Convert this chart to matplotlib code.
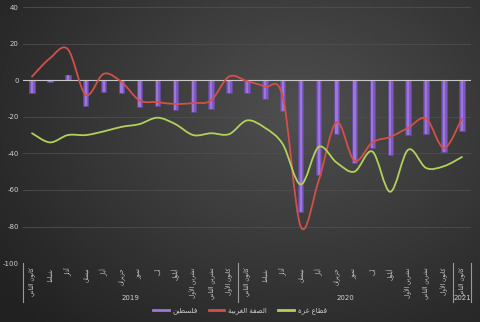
import numpy as np
import matplotlib
matplotlib.use("Agg")
import matplotlib.pyplot as plt
from matplotlib.path import Path
from matplotlib.patches import PathPatch
from matplotlib.lines import Line2D
import matplotlib.transforms as mtransforms

# ---------------- data ----------------
months = ['كانون الثاني', 'شباط', 'آذار', 'نيسان', 'أيار', 'حزيران', 'تموز', 'آب',
          'أيلول', 'تشرين الأول', 'تشرين الثاني', 'كانون الأول']
categories = months + months + ['كانون الثاني']
years = ['2019', '2020', '2021']
year_spans = [(0, 11), (12, 23), (24, 24)]

palestine = [-7, -1, 3, -14, -6.5, -7, -14.5, -14, -16.5, -17.5, -16, -7,
             -7, -10, -17, -72, -52, -29.5, -45, -37, -41, -30, -29.5, -39.5, -28]
west_bank = [2, 12, 17, -8, 3.5, -1, -11, -12, -13, -12.5, -11, 2,
             -0.5, -3.5, -9, -80, -55, -23, -44, -34, -31, -26, -21, -37, -21]
gaza = [-29, -34, -30, -30, -28, -25.5, -24, -20.5, -24, -30, -29, -29.5,
        -22, -26, -35, -57, -36.5, -45, -50, -39, -61, -38, -48, -47, -42]

series_names = ['فلسطين', 'الضفة الغربية', 'قطاع غزة']
y_ticks = [40, 20, 0, -20, -40, -60, -80, -100]

# ---------------- arabic shaping (display only) ----------------
F = {
    '\u0621': ('\uFE80', None, None, None),
    '\u0622': ('\uFE81', '\uFE82', None, None),
    '\u0623': ('\uFE83', '\uFE84', None, None),
    '\u0625': ('\uFE87', '\uFE88', None, None),
    '\u0627': ('\uFE8D', '\uFE8E', None, None),
    '\u0628': ('\uFE8F', '\uFE90', '\uFE91', '\uFE92'),
    '\u0629': ('\uFE93', '\uFE94', None, None),
    '\u062A': ('\uFE95', '\uFE96', '\uFE97', '\uFE98'),
    '\u062B': ('\uFE99', '\uFE9A', '\uFE9B', '\uFE9C'),
    '\u062C': ('\uFE9D', '\uFE9E', '\uFE9F', '\uFEA0'),
    '\u062D': ('\uFEA1', '\uFEA2', '\uFEA3', '\uFEA4'),
    '\u062E': ('\uFEA5', '\uFEA6', '\uFEA7', '\uFEA8'),
    '\u062F': ('\uFEA9', '\uFEAA', None, None),
    '\u0630': ('\uFEAB', '\uFEAC', None, None),
    '\u0631': ('\uFEAD', '\uFEAE', None, None),
    '\u0632': ('\uFEAF', '\uFEB0', None, None),
    '\u0633': ('\uFEB1', '\uFEB2', '\uFEB3', '\uFEB4'),
    '\u0634': ('\uFEB5', '\uFEB6', '\uFEB7', '\uFEB8'),
    '\u0635': ('\uFEB9', '\uFEBA', '\uFEBB', '\uFEBC'),
    '\u0636': ('\uFEBD', '\uFEBE', '\uFEBF', '\uFEC0'),
    '\u0637': ('\uFEC1', '\uFEC2', '\uFEC3', '\uFEC4'),
    '\u0638': ('\uFEC5', '\uFEC6', '\uFEC7', '\uFEC8'),
    '\u0639': ('\uFEC9', '\uFECA', '\uFECB', '\uFECC'),
    '\u063A': ('\uFECD', '\uFECE', '\uFECF', '\uFED0'),
    '\u0641': ('\uFED1', '\uFED2', '\uFED3', '\uFED4'),
    '\u0642': ('\uFED5', '\uFED6', '\uFED7', '\uFED8'),
    '\u0643': ('\uFED9', '\uFEDA', '\uFEDB', '\uFEDC'),
    '\u0644': ('\uFEDD', '\uFEDE', '\uFEDF', '\uFEE0'),
    '\u0645': ('\uFEE1', '\uFEE2', '\uFEE3', '\uFEE4'),
    '\u0646': ('\uFEE5', '\uFEE6', '\uFEE7', '\uFEE8'),
    '\u0647': ('\uFEE9', '\uFEEA', '\uFEEB', '\uFEEC'),
    '\u0648': ('\uFEED', '\uFEEE', None, None),
    '\u0649': ('\uFEEF', '\uFEF0', None, None),
    '\u064A': ('\uFEF1', '\uFEF2', '\uFEF3', '\uFEF4'),
}
LAM_ALEF = {'\u0622': ('\uFEF5', '\uFEF6'), '\u0623': ('\uFEF7', '\uFEF8'),
            '\u0625': ('\uFEF9', '\uFEFA'), '\u0627': ('\uFEFB', '\uFEFC')}


def shape(s):
    def dual(c):
        return c in F and F[c][2] is not None

    def joins(c):
        return c in F and F[c][1] is not None
    out = []
    ch = list(s)
    n = len(ch)
    i = 0
    prev = None
    while i < n:
        c = ch[i]
        if c not in F:
            out.append(c)
            prev = None
            i += 1
            continue
        jp = prev is not None and dual(prev)
        if c == '\u0644' and i + 1 < n and ch[i + 1] in LAM_ALEF:
            out.append(LAM_ALEF[ch[i + 1]][1 if jp else 0])
            prev = ch[i + 1]
            i += 2
            continue
        nxt = ch[i + 1] if i + 1 < n else None
        jn = dual(c) and nxt is not None and joins(nxt)
        fm = F[c]
        if jp and jn and fm[3]:
            g = fm[3]
        elif jp and fm[1]:
            g = fm[1]
        elif jn and fm[2]:
            g = fm[2]
        else:
            g = fm[0]
        out.append(g)
        prev = c
        i += 1
    return ''.join(reversed(out))


def smooth_path(x, y):
    n = len(x)
    verts = [(x[0], y[0])]
    codes = [Path.MOVETO]
    for i in range(n - 1):
        p0 = i - 1 if i > 0 else i
        p3 = i + 2 if i + 2 < n else i + 1
        c1 = (x[i] + (x[i + 1] - x[p0]) / 6.0, y[i] + (y[i + 1] - y[p0]) / 6.0)
        c2 = (x[i + 1] - (x[p3] - x[i]) / 6.0, y[i + 1] - (y[p3] - y[i]) / 6.0)
        verts += [c1, c2, (x[i + 1], y[i + 1])]
        codes += [Path.CURVE4] * 3
    return Path(verts, codes)


# ---------------- figure ----------------
plt.rcParams['font.family'] = ['DejaVu Sans']
fig = plt.figure(figsize=(4.8, 3.22), dpi=100)

# background gradient
bg = fig.add_axes([0, 0, 1, 1], zorder=-10)
gx, gy = np.meshgrid(np.linspace(0, 1, 300), np.linspace(0, 1, 200))
r = np.sqrt(((gx - 0.62) / 0.75) ** 2 + ((gy - 0.35) / 0.85) ** 2)
shade = np.clip(0.31 - 0.17 * r, 0.13, 0.31)
bg.imshow(np.dstack([shade, shade, shade]), extent=[0, 1, 0, 1], aspect='auto',
          interpolation='bilinear')
bg.axis('off')

ax = fig.add_axes([0.048, 0.183, 0.933, 0.795])
ax.set_facecolor('none')
x = np.arange(len(categories))

ax.set_xlim(-0.5, len(categories) - 0.5)
ax.set_ylim(-100, 40)
ax.set_yticks(y_ticks)
ax.set_yticklabels([str(v) for v in y_ticks])
ax.tick_params(axis='y', length=0, labelsize=5, colors='#cfcfcf', pad=3)
ax.set_xticks([])
for s in ax.spines.values():
    s.set_visible(False)
for v in y_ticks:
    if v != 0:
        ax.axhline(v, color='#4e4e4e', lw=0.6, zorder=0)

# bars
ax.bar(x, palestine, width=0.3, color='#7f58c2', edgecolor='#6a48a8', lw=0.4, zorder=2)
ax.bar(x, palestine, width=0.12, color='#9a78d8', lw=0, zorder=2.1)
ax.axhline(0, color='#c8c8c8', lw=0.8, zorder=3)

# smoothed lines
ax.add_patch(PathPatch(smooth_path(x, west_bank), fill=False, edgecolor='#d3504a',
                       lw=1.3, zorder=4, capstyle='round'))
ax.add_patch(PathPatch(smooth_path(x, gaza), fill=False, edgecolor='#b2d15a',
                       lw=1.3, zorder=4, capstyle='round'))

# category labels
trans = mtransforms.blended_transform_factory(ax.transData, ax.transAxes)
for i, lab in enumerate(categories):
    ax.text(i, -0.018, shape(lab), transform=trans, rotation=90, ha='center', va='top',
            fontsize=4.2, color='#d0d0d0')

# year separators and labels
for xs in [-0.5, 11.5, 23.5, 24.5]:
    ax.plot([xs, xs], [0, -0.152], transform=trans, color='#9a9a9a', lw=0.8,
            clip_on=False)
for (a, b), yr in zip(year_spans, years):
    ax.text((a + b) / 2.0, -0.137, yr, transform=trans, ha='center', va='center',
            fontsize=5, color='#d0d0d0')

# legend
handles = [Line2D([], [], color='#9a78d8', lw=2),
           Line2D([], [], color='#d3504a', lw=2),
           Line2D([], [], color='#b2d15a', lw=2)]
leg = fig.legend(handles, [shape(n) for n in series_names], loc='center',
                 bbox_to_anchor=(0.5, 0.034), ncol=3, frameon=False, fontsize=5,
                 handlelength=2.2, handletextpad=0.6, columnspacing=1.6,
                 labelcolor='#d0d0d0')

fig.savefig('out.png', dpi=100)
